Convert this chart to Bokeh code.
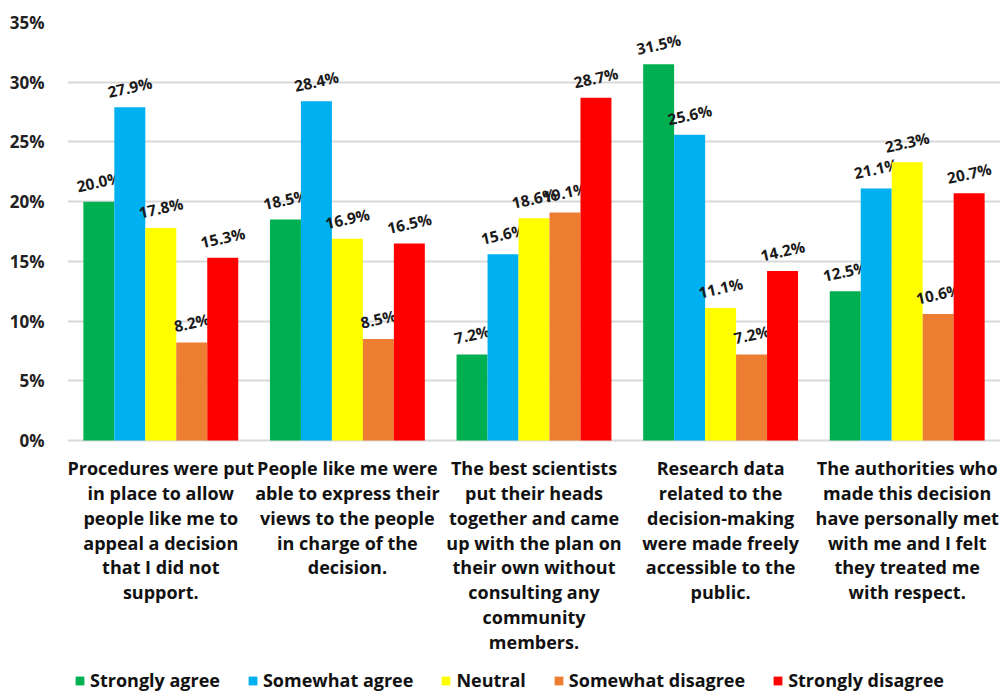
from bokeh.plotting import figure
from bokeh.models import ColumnDataSource, FactorRange, Range1d, PrintfTickFormatter, Legend, LegendItem
from bokeh.core.properties import value
from bokeh.transform import dodge
from bokeh.embed import file_html
from bokeh.resources import INLINE

categories = [
    "Procedures were put\nin place to allow\npeople like me to\nappeal a decision\nthat I did not\nsupport.",
    "People like me were\nable to express their\nviews to the people\nin charge of the\ndecision.",
    "The best scientists\nput their heads\ntogether and came\nup with the plan on\ntheir own without\nconsulting any\ncommunity\nmembers.",
    "Research data\nrelated to the\ndecision-making\nwere made freely\naccessible to the\npublic.",
    "The authorities who\nmade this decision\nhave personally met\nwith me and I felt\nthey treated me\nwith respect.",
]
series_names = ["Strongly agree", "Somewhat agree", "Neutral", "Somewhat disagree", "Strongly disagree"]
strongly_agree = [20.0, 18.5, 7.2, 31.5, 12.5]
somewhat_agree = [27.9, 28.4, 15.6, 25.6, 21.1]
neutral = [17.8, 16.9, 18.6, 11.1, 23.3]
somewhat_disagree = [8.2, 8.5, 19.1, 7.2, 10.6]
strongly_disagree = [15.3, 16.5, 28.7, 14.2, 20.7]
colors = ["#00B050", "#00B0F0", "#FFFF00", "#ED7D31", "#FF0000"]
y_ticks = [0, 5, 10, 15, 20, 25, 30, 35]

series_values = [strongly_agree, somewhat_agree, neutral, somewhat_disagree, strongly_disagree]

FONT = "Open Sans"

# frame extends below zero to leave room for the category texts and legend
p = figure(x_range=FactorRange(factors=categories, range_padding=0),
           y_range=Range1d(-21.02, 35),
           width=1002, height=691, output_backend="svg", toolbar_location=None,
           min_border_left=67, min_border_right=2, min_border_top=22, min_border_bottom=0)
p.outline_line_color = None
p.background_fill_color = "white"

bw = 0.166
offsets = [-2 * bw, -bw, 0.0, bw, 2 * bw]
items = []
for name, vals, col, off in zip(series_names, series_values, colors, offsets):
    src = ColumnDataSource(dict(cat=categories, val=vals, lab=[f"{v:.1f}%" for v in vals]))
    r = p.vbar(x=dodge("cat", off, range=p.x_range), top="val", width=bw, source=src,
               fill_color=col, line_color=None)
    p.text(x=dodge("cat", off, range=p.x_range), y="val", text="lab", source=src,
           angle=0.22, text_align="center", text_baseline="middle", y_offset=-20,
           text_font=value(FONT), text_font_style="bold", text_font_size="15.5px", text_color="#1a1a1a")
    items.append(LegendItem(label=name, renderers=[r]))

# category texts under the zero line
cat_src = ColumnDataSource(dict(cat=categories, base=[0] * len(categories)))
p.text(x="cat", y="base", text="cat", source=cat_src, y_offset=16,
       text_align="center", text_baseline="top", text_line_height=1.03,
       text_font=value(FONT), text_font_style="bold", text_font_size="18px", text_color="#111111")

p.xaxis.visible = False

p.yaxis.ticker = y_ticks
p.yaxis.formatter = PrintfTickFormatter(format="%d%%")
p.yaxis.axis_line_color = None
p.yaxis.major_tick_line_color = None
p.yaxis.minor_tick_line_color = None
p.yaxis.major_label_standoff = 17
p.yaxis.major_label_text_font = FONT
p.yaxis.major_label_text_font_style = "bold"
p.yaxis.major_label_text_font_size = "17px"
p.yaxis.major_label_text_color = "#222222"

p.xgrid.grid_line_color = None
p.ygrid.grid_line_color = "#d9d9d9"
p.ygrid.grid_line_width = 2
p.ygrid.ticker = y_ticks

legend = Legend(items=items, orientation="horizontal", location=(7, -1),
                label_text_font=FONT, label_text_font_style="bold", label_text_font_size="18px",
                label_text_color="#111111", glyph_width=11, glyph_height=11,
                spacing=27, padding=0, margin=0, border_line_color=None, label_standoff=5,
                background_fill_alpha=0)
p.add_layout(legend, "center")

open("out.html", "w").write(file_html(p, INLINE))
